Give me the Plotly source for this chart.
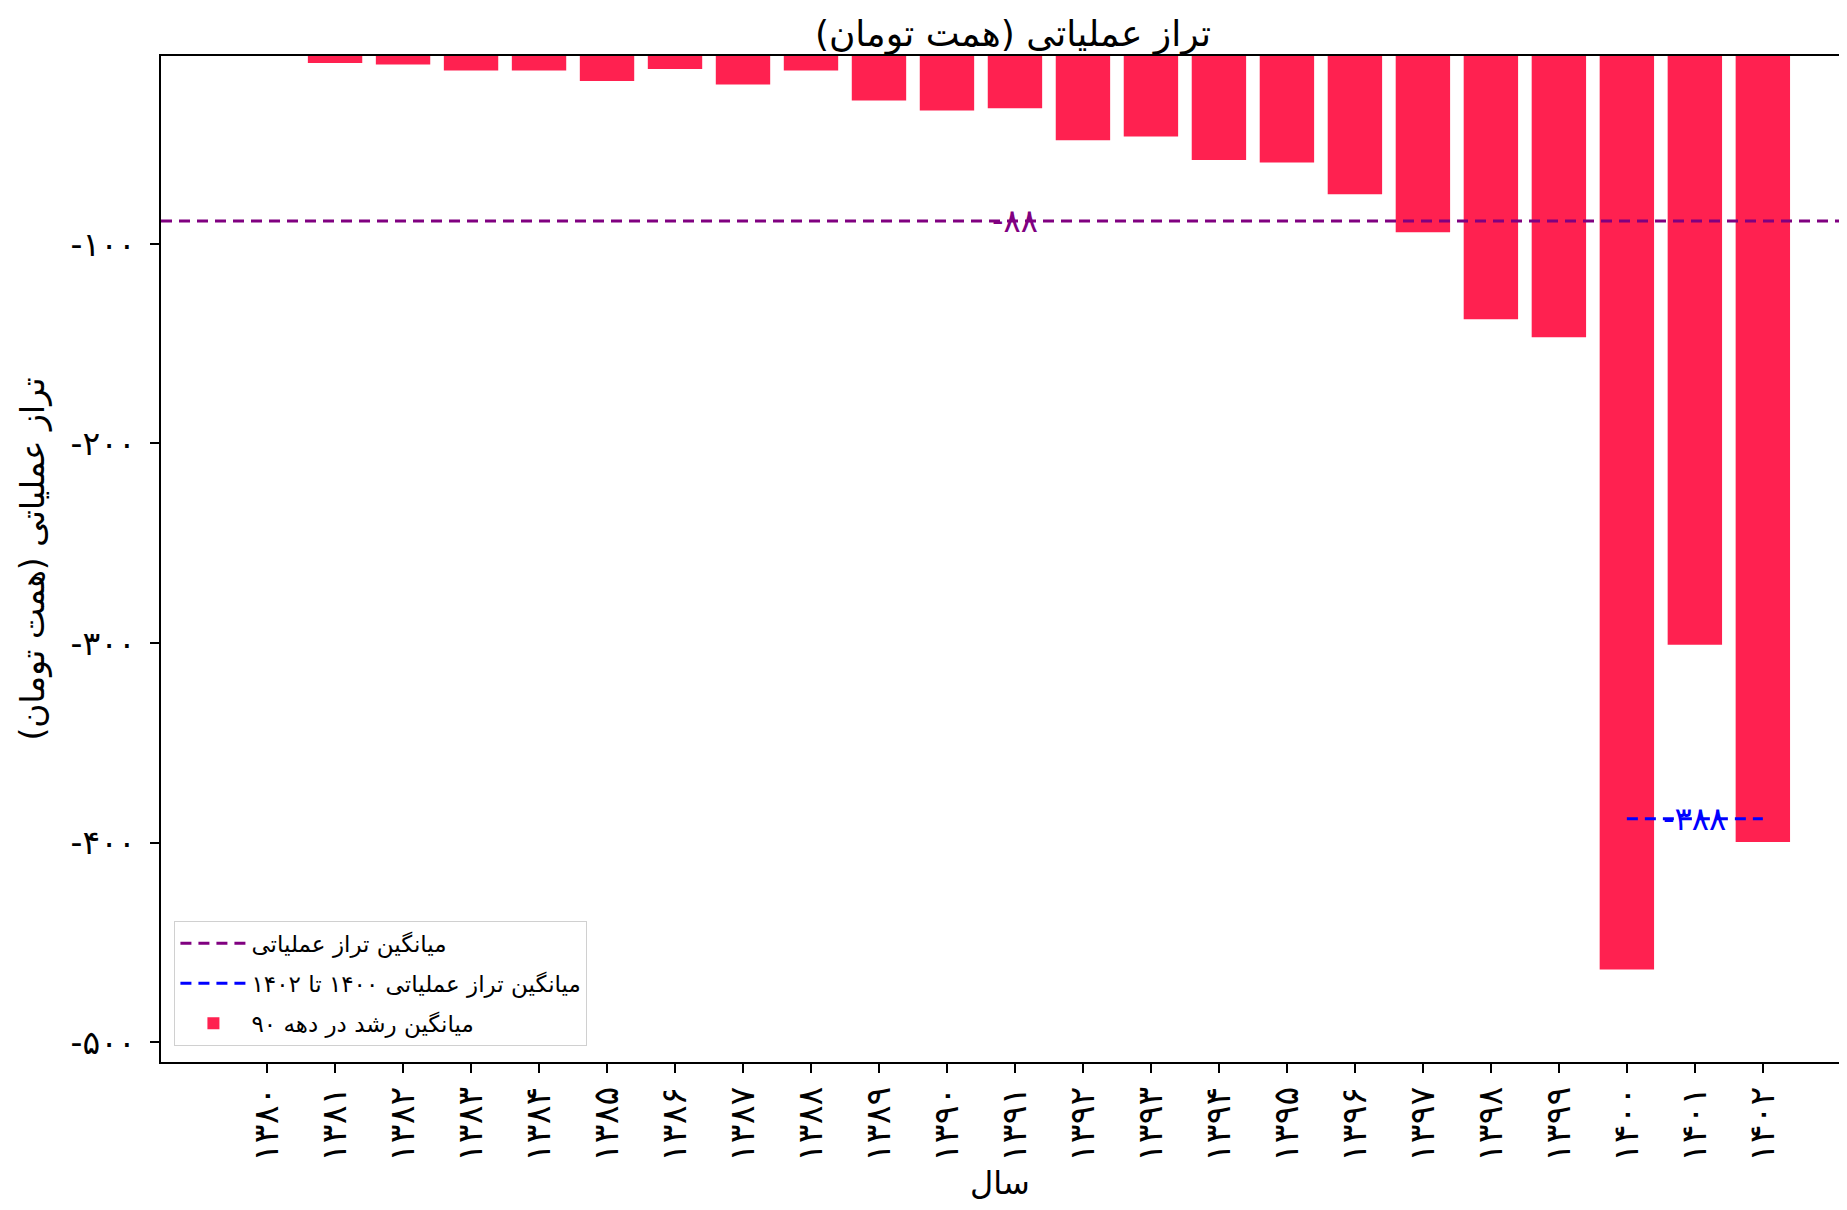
import plotly.graph_objects as go

fa = str.maketrans("0123456789", "۰۱۲۳۴۵۶۷۸۹")
to_fa = lambda v: str(v).translate(fa)

years = list(range(1380, 1403))
values = [-3, -9.3, -10.1, -13.1, -13.1, -18.3, -12.3, -20.1, -13.1, -28.1,
          -33.1, -32.0, -48.0, -46.2, -57.9, -59.2, -75.1, -94.1, -137.8,
          -146.7, -463.6, -300.9, -399.7]
y_ticks = [-100, -200, -300, -400, -500]

FONT = "DejaVu Sans"
BAR = "#ff2150"

x = list(range(len(years)))
x_range = [-1.56, 23.12]
mean_all = sum(values) / len(values)
last3 = values[-3:]
mean_last = sum(last3) / len(last3)

fig = go.Figure()

fig.add_trace(go.Bar(
    x=x, y=values, width=0.8, marker_color=BAR, marker_line_width=0,
    name="میانگین رشد در دهه ۹۰", legendrank=3, legendgroup="c",
))
fig.add_trace(go.Scatter(
    x=x_range, y=[mean_all, mean_all], mode="lines",
    line=dict(color="purple", width=3, dash="11px,7px"),
    name="میانگین تراز عملیاتی", legendrank=1, legendgroup="a",
))
fig.add_trace(go.Scatter(
    x=[x[-3], x[-1]], y=[mean_last, mean_last], mode="lines",
    line=dict(color="blue", width=3, dash="11px,7px"),
    name="میانگین تراز عملیاتی ۱۴۰۰ تا ۱۴۰۲", legendrank=2, legendgroup="b",
))

fig.add_annotation(x=x[11], y=mean_all, text="-" + to_fa(int(abs(mean_all))),
                   showarrow=False, font=dict(family=FONT, size=32, color="purple"))
fig.add_annotation(x=x[-2], y=mean_last, text="-" + to_fa(int(abs(mean_last))),
                   showarrow=False, font=dict(family=FONT, size=32, color="blue"))

# page body keeps an 8px margin; size the figure so no scrollbars appear
fig.update_layout(
    width=1831, height=1194,
    margin=dict(l=153, r=0, t=48, b=140),
    plot_bgcolor="white", paper_bgcolor="white",
    font=dict(family=FONT, size=28, color="black"),
    title=dict(text="تراز عملیاتی (همت تومان)", x=(1013 - 8) / 1831, xref="container",
               y=1 - 25 / 1194, yref="container", yanchor="middle",
               font=dict(family=FONT, size=36, color="black")),
    legend=dict(x=0.008, y=0.016, xanchor="left", yanchor="bottom",
                bgcolor="rgba(255,255,255,0.85)", bordercolor="#d0d0d0",
                borderwidth=1, font=dict(family=FONT, size=23),
                itemwidth=66, tracegroupgap=7),
    bargap=0.2,
)
fig.update_xaxes(
    range=x_range, tickmode="array", tickvals=x,
    ticktext=[to_fa(y) for y in years], tickangle=-90,
    tickfont=dict(size=35),
    ticks="outside", ticklen=9, tickwidth=1.5, tickcolor="black",
    showline=True, linecolor="black", linewidth=1.5, mirror=True,
    showgrid=False, zeroline=False, automargin=False,
    title=dict(text="سال", standoff=18, font=dict(size=32)),
)
fig.update_yaxes(
    range=[-510, -5.8], tickmode="array", tickvals=y_ticks,
    ticktext=["-" + to_fa(abs(t)) for t in y_ticks],
    tickfont=dict(size=33), ticklabelstandoff=8,
    ticks="outside", ticklen=9, tickwidth=1.5, tickcolor="black",
    showline=True, linecolor="black", linewidth=1.5,
    showgrid=False, zeroline=False, automargin=False,
    title=dict(text="تراز عملیاتی (همت تومان)", standoff=16, font=dict(size=33)),
)

fig.write_html("out.html")
